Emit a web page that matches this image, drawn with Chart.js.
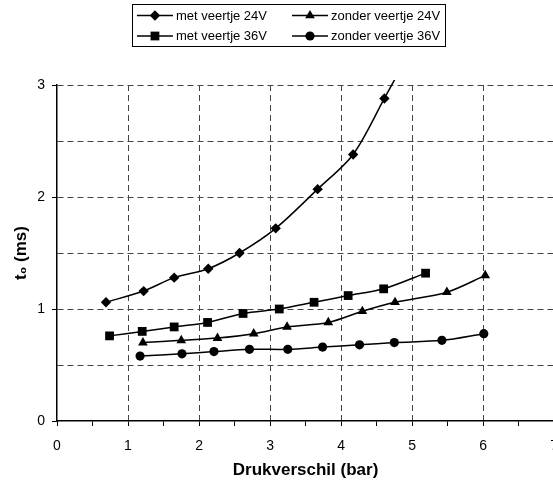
<!DOCTYPE html>
<html><head><meta charset="utf-8">
<script src="https://cdn.jsdelivr.net/npm/chart.js@4/dist/chart.umd.min.js"></script>
<style>
html,body{margin:0;padding:0;overflow:hidden;background:#fff;width:553px;height:483px}
#wrap{position:absolute;left:0;top:0;width:570px;height:483px}
</style>
</head><body><div id="wrap"><canvas id="c" width="570" height="483"></canvas></div>
<script>
// ---- data ----
const seriesNames = ['met veertje 24V', 'met veertje 36V', 'zonder veertje 24V', 'zonder veertje 36V'];
const seriesMarkers = ['rectRot', 'rect', 'triangle', 'circle'];

const met24X = [0.69, 1.22, 1.65, 2.13, 2.57, 3.08, 3.67, 4.17, 4.61, 5.10];
const met24Y = [1.06, 1.16, 1.28, 1.36, 1.50, 1.72, 2.07, 2.38, 2.88, 3.45];

const met36X = [0.74, 1.20, 1.65, 2.12, 2.62, 3.13, 3.62, 4.10, 4.60, 5.19];
const met36Y = [0.76, 0.80, 0.84, 0.88, 0.96, 1.00, 1.06, 1.12, 1.18, 1.32];

const zonder24X = [1.21, 1.75, 2.26, 2.77, 3.24, 3.82, 4.30, 4.76, 5.49, 6.03];
const zonder24Y = [0.70, 0.72, 0.74, 0.78, 0.84, 0.88, 0.98, 1.06, 1.15, 1.30];

const zonder36X = [1.17, 1.76, 2.21, 2.71, 3.25, 3.74, 4.26, 4.75, 5.42, 6.01];
const zonder36Y = [0.58, 0.60, 0.62, 0.64, 0.64, 0.66, 0.68, 0.70, 0.72, 0.78];

const xTicks = [0, 1, 2, 3, 4, 5, 6, 7];
const yTicks = [0, 1, 2, 3];
const xTitle = 'Drukverschil (bar)';
const yTitle = 't\u2080 (ms)';

// ---- build ----
const seriesX = [met24X, met36X, zonder24X, zonder36X];
const seriesY = [met24Y, met36Y, zonder24Y, zonder36Y];
const markerRadius = {rectRot: 5.2, rect: 6.2, triangle: 5.6, circle: 4.6};
const FONT = "'Liberation Sans', Arial, sans-serif";

const datasets = seriesNames.map((name, i) => ({
  label: name,
  data: seriesX[i].map((x, j) => ({x: x, y: seriesY[i][j]})),
  showLine: true,
  borderColor: '#000',
  backgroundColor: '#000',
  borderWidth: 1.5,
  pointStyle: seriesMarkers[i],
  pointRadius: markerRadius[seriesMarkers[i]],
  pointBorderWidth: 0,
  pointBackgroundColor: '#000',
  tension: 0.3,
  clip: {left: 0, top: 5, right: 0, bottom: 0}
}));

function drawMarker(ctx, style, x, y, r) {
  ctx.beginPath();
  if (style === 'rectRot') {
    ctx.moveTo(x - r, y); ctx.lineTo(x, y - r); ctx.lineTo(x + r, y); ctx.lineTo(x, y + r);
  } else if (style === 'rect') {
    const s = r * Math.SQRT1_2; ctx.rect(x - s, y - s, 2 * s, 2 * s);
  } else if (style === 'triangle') {
    const a = 2 * Math.PI / 3;
    ctx.moveTo(x, y - r);
    ctx.lineTo(x + Math.sin(a) * r, y - Math.cos(a) * r);
    ctx.lineTo(x - Math.sin(a) * r, y - Math.cos(a) * r);
  } else {
    ctx.arc(x, y, r, 0, Math.PI * 2);
  }
  ctx.closePath();
  ctx.fill();
}

const boxLegend = {
  id: 'boxLegend',
  afterDraw(chart) {
    const ctx = chart.ctx;
    ctx.save();
    ctx.font = '13px ' + FONT;
    ctx.fillStyle = '#000';
    ctx.strokeStyle = '#000';
    const ds = chart.data.datasets;
    const lineLen = 36, gap = 3, colGap = 25, pad = 5;
    const col2X = 292;
    const w1 = Math.max(ctx.measureText(ds[0].label).width, ctx.measureText(ds[1].label).width);
    const w2 = Math.max(ctx.measureText(ds[2].label).width, ctx.measureText(ds[3].label).width);
    const col1X = col2X - colGap - w1 - gap - lineLen;
    const rows = [15.5, 36];
    const left = col1X - pad, right = col2X + lineLen + gap + w2 + pad;
    ctx.lineWidth = 1;
    ctx.strokeRect(Math.round(left) + 0.5, 4.5, Math.round(right - left), 42);
    const pos = [[col1X, rows[0]], [col1X, rows[1]], [col2X, rows[0]], [col2X, rows[1]]];
    ds.forEach((d, i) => {
      const [x, y] = pos[i];
      ctx.lineWidth = 1.5;
      ctx.beginPath(); ctx.moveTo(x, y); ctx.lineTo(x + lineLen, y); ctx.stroke();
      drawMarker(ctx, d.pointStyle, x + lineLen / 2, y, d.pointRadius);
      ctx.textBaseline = 'middle';
      ctx.textAlign = 'left';
      ctx.fillText(d.label, x + lineLen + gap, y + 0.5);
    });
    ctx.restore();
  }
};

new Chart(document.getElementById('c'), {
  type: 'scatter',
  data: {datasets: datasets},
  plugins: [boxLegend],
  options: {
    responsive: false,
    animation: false,
    devicePixelRatio: 1,
    layout: {padding: {top: 85, left: 0, right: 0, bottom: 0}},
    plugins: {legend: {display: false}, tooltip: {enabled: false}},
    scales: {
      x: {
        type: 'linear', min: xTicks[0], max: xTicks[xTicks.length - 1],
        ticks: {
          stepSize: 0.5, autoSkip: false, maxRotation: 0, color: '#000', padding: 12,
          font: {family: FONT, size: 14},
          callback: v => xTicks.includes(v) ? String(v) : ''
        },
        grid: {
          color: c => (c.tick && Number.isInteger(c.tick.value) && c.tick.value > 0) ? '#444' : 'rgba(0,0,0,0)',
          tickColor: '#000', tickLength: 5, lineWidth: 1
        },
        border: {display: true, color: '#000', width: 1.5, dash: [6, 4]},
        title: {display: true, text: xTitle, color: '#000', font: {family: FONT, size: 17, weight: 'bold'}, padding: {top: 0, bottom: 2}},
        afterFit: s => { s.height = 62; }
      },
      y: {
        type: 'linear', min: yTicks[0], max: yTicks[yTicks.length - 1],
        ticks: {
          stepSize: 0.5, autoSkip: false, color: '#000', padding: 7,
          font: {family: FONT, size: 14},
          callback: v => yTicks.includes(v) ? String(v) : ''
        },
        grid: {
          color: c => (c.tick && c.tick.value > 0) ? '#444' : 'rgba(0,0,0,0)',
          tickColor: c => (c.tick && Number.isInteger(c.tick.value)) ? '#000' : 'rgba(0,0,0,0)',
          tickLength: 5, lineWidth: 1
        },
        border: {display: true, color: '#000', width: 1.5, dash: [6, 4]},
        title: {display: true, text: yTitle, color: '#000', font: {family: FONT, size: 17, weight: 'bold'}, padding: {top: 11, bottom: 0}},
        afterFit: s => { s.width = 57; }
      }
    }
  }
});
</script>
</body></html>
